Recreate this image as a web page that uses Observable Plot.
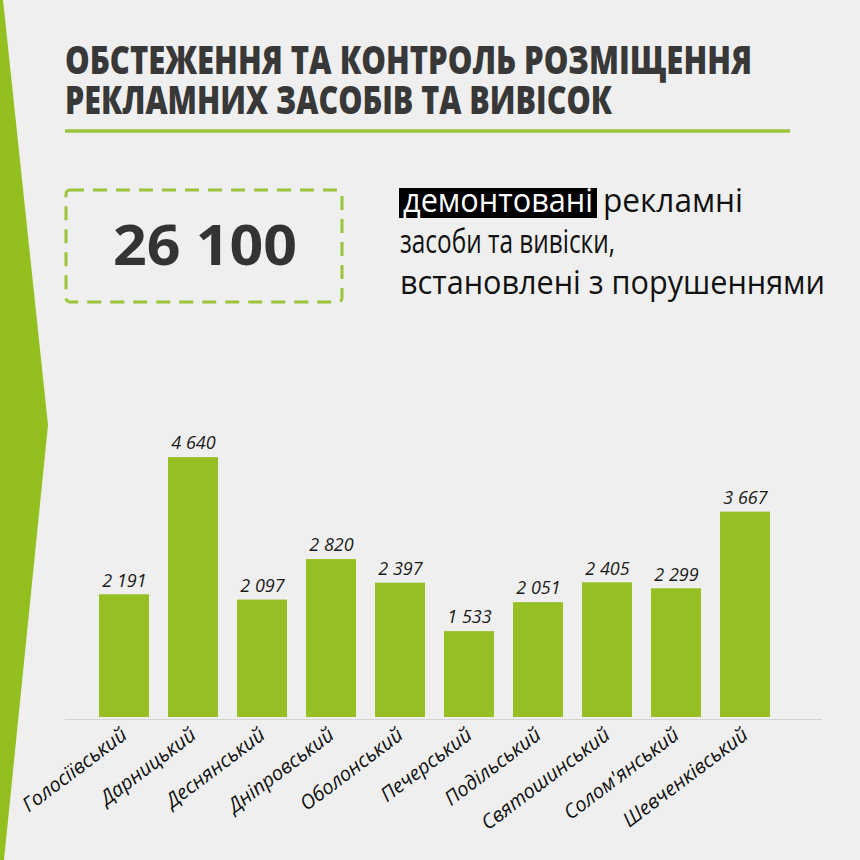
<!DOCTYPE html>
<html>
<head>
<meta charset="utf-8">
<script src="https://cdn.jsdelivr.net/npm/d3@7"></script>
<script src="https://cdn.jsdelivr.net/npm/@observablehq/plot@0.6"></script>
<style>
  html, body { margin: 0; padding: 0; background: #efefef; }
  #page { position: relative; width: 860px; height: 860px; background: #efefef; overflow: hidden; font-family: "Open Sans", sans-serif; }
  #bg { position: absolute; left: 0; top: 0; }
  #chart { position: absolute; left: 0; top: 400px; }
</style>
</head>
<body>
<div id="page">
  <svg id="bg" width="860" height="860" xmlns="http://www.w3.org/2000/svg">
    <polygon points="0,0 3,0 48,425 4,860 0,860" fill="#93c01f"/>
    <text x="65" y="74" font-family="Open Sans" font-weight="800" font-size="38" fill="#383838" textLength="687" lengthAdjust="spacingAndGlyphs">ОБСТЕЖЕННЯ ТА КОНТРОЛЬ РОЗМІЩЕННЯ</text>
    <text x="65" y="114" font-family="Open Sans" font-weight="800" font-size="38" fill="#383838" textLength="547" lengthAdjust="spacingAndGlyphs">РЕКЛАМНИХ ЗАСОБІВ ТА ВИВІСОК</text>
    <line x1="65" x2="790" y1="131" y2="131" stroke="#9dc43c" stroke-width="3.5"/>
    <rect x="66" y="190" width="276" height="112" rx="4" fill="none" stroke="#9cc43a" stroke-width="3" stroke-dasharray="14 9"/>
    <text x="113" y="265" font-family="Open Sans" font-weight="700" font-size="56" fill="#333333" textLength="184" lengthAdjust="spacingAndGlyphs">26 100</text>
    <rect x="399" y="188" width="198" height="30" fill="#000000"/>
    <text x="403" y="212" font-family="Open Sans" font-size="32" fill="#ffffff" textLength="190" lengthAdjust="spacingAndGlyphs">демонтовані</text>
    <text x="603" y="212" font-family="Open Sans" font-size="32" fill="#111111" textLength="140" lengthAdjust="spacingAndGlyphs">рекламні</text>
    <text x="400" y="253" font-family="Open Sans" font-size="32" fill="#111111" textLength="215" lengthAdjust="spacingAndGlyphs">засоби та вивіски,</text>
    <text x="400" y="294" font-family="Open Sans" font-size="32" fill="#111111" textLength="425" lengthAdjust="spacingAndGlyphs">встановлені з порушеннями</text>
  </svg>
  <div id="chart"></div>
</div>
<script>
const districts = ["Голосіївський", "Дарницький", "Деснянський", "Дніпровський", "Оболонський", "Печерський", "Подільський", "Святошинський", "Солом'янський", "Шевченківський"];
const values = [2191, 4640, 2097, 2820, 2397, 1533, 2051, 2405, 2299, 3667];

const data = districts.map((d, i) => ({district: d, value: values[i]}));
const fmt = v => d3.format(",")(v).replace(/,/g, " ");

const chart = Plot.plot({
  width: 860,
  height: 460,
  marginLeft: 65,
  marginRight: 38,
  marginTop: 0,
  marginBottom: 0,
  style: {background: "transparent", fontFamily: "Open Sans", overflow: "visible"},
  x: {domain: districts, range: [65, 822], paddingInner: 0.28, paddingOuter: 0.6, align: 0.392, axis: null},
  y: {domain: [0, 5000], range: [317, 37], axis: null},
  marks: [
    Plot.barY(data, {x: "district", y: "value", fill: "#96bf24"}),
    Plot.ruleY([0], {stroke: "#d4d4d4", strokeWidth: 1, dy: 2}),
    Plot.text(data, {x: "district", y: "value", text: d => fmt(d.value), dy: -14, fontSize: 18, fontStyle: "italic", fill: "#1a1a1a"}),
    Plot.text(data, {x: "district", y: 0, text: "district", rotate: -37, textAnchor: "end", dx: 0, dy: 15, fontSize: 20, fontStyle: "italic", fill: "#111111"})
  ]
});
document.getElementById("chart").appendChild(chart);
</script>
</body>
</html>
